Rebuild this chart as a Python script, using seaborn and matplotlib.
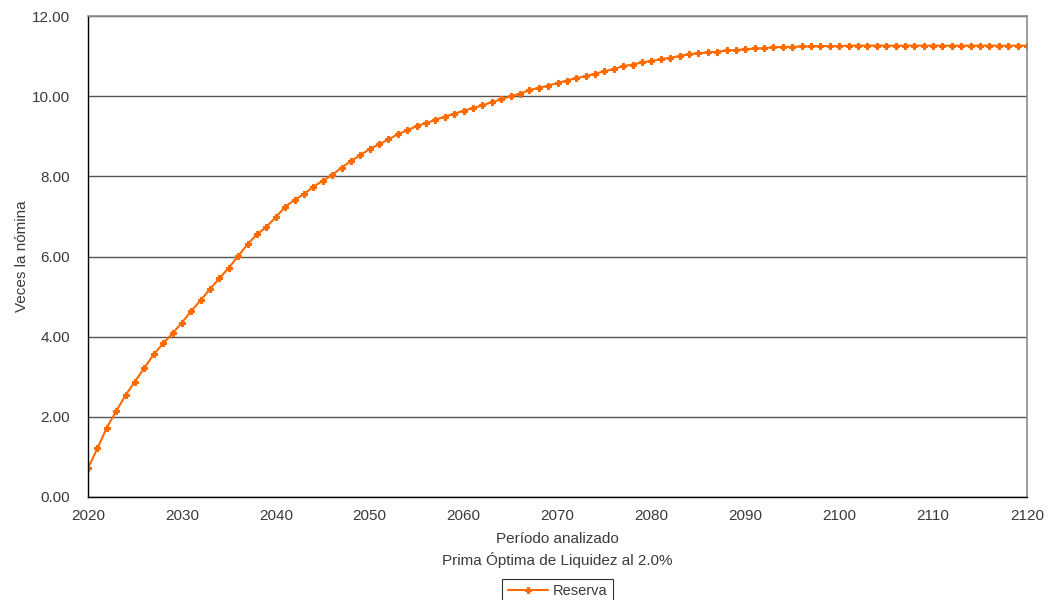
import numpy as np
import pandas as pd
import matplotlib
matplotlib.use("Agg")
import matplotlib.pyplot as plt
from matplotlib.ticker import MultipleLocator, FormatStrFormatter
import seaborn as sns

# --- Data ---
years = list(range(2020, 2121))
reserva = [
    0.72, 1.21, 1.73, 2.14, 2.54, 2.88, 3.22, 3.56, 3.83, 4.08,   # 2020-2029
    4.35, 4.64, 4.91, 5.19, 5.46, 5.72, 6.01, 6.31, 6.55, 6.74,   # 2030-2039
    6.98, 7.24, 7.41, 7.56, 7.74, 7.89, 8.03, 8.22, 8.38, 8.53,   # 2040-2049
    8.68, 8.80, 8.92, 9.05, 9.15, 9.25, 9.33, 9.41, 9.49, 9.56,   # 2050-2059
    9.64, 9.70, 9.77, 9.85, 9.92, 10.00, 10.06, 10.15, 10.21, 10.26,  # 2060-2069
    10.33, 10.39, 10.45, 10.50, 10.56, 10.62, 10.68, 10.75, 10.79, 10.84,  # 2070-2079
    10.88, 10.92, 10.96, 11.00, 11.05, 11.07, 11.09, 11.11, 11.14, 11.15,  # 2080-2089
    11.17, 11.19, 11.20, 11.22, 11.23, 11.23, 11.24, 11.24, 11.25, 11.25,  # 2090-2099
    11.25, 11.26, 11.26, 11.26, 11.26, 11.26, 11.26, 11.26, 11.26, 11.26,  # 2100-2109
    11.26, 11.26, 11.26, 11.26, 11.26, 11.26, 11.26, 11.26, 11.26, 11.26,  # 2110-2119
    11.26,  # 2120
]
serie_nombre = "Reserva"
x_label = "Período analizado\nPrima Óptima de Liquidez al 2.0%"
y_label = "Veces la nómina"

df = pd.DataFrame({"anio": years, "valor": reserva, "serie": serie_nombre})

# --- Style ---
sns.set_style("white")
plt.rcParams["font.family"] = ["Liberation Sans", "DejaVu Sans"]
TEXT = "#3a3a3a"
ORANGE = "#ff6a00"

fig = plt.figure(figsize=(10.58, 6.0), dpi=100)
ax = fig.add_axes([88 / 1058, 1 - 497 / 600, (1027 - 88) / 1058, (497 - 16) / 600])

sns.lineplot(data=df, x="anio", y="valor", hue="serie", palette=[ORANGE],
             marker="P", markersize=5, markeredgewidth=0.8,
             markeredgecolor=ORANGE, markerfacecolor=ORANGE, linewidth=1.5,
             ax=ax, legend=True)

ax.set_xlim(2020, 2120)
ax.set_ylim(0, 12)
ax.xaxis.set_major_locator(MultipleLocator(10))
ax.xaxis.set_minor_locator(MultipleLocator(5))
ax.yaxis.set_major_locator(MultipleLocator(2))
ax.yaxis.set_major_formatter(FormatStrFormatter("%.2f"))

ax.grid(axis="y", color="#555555", linewidth=1.0)
ax.set_axisbelow(True)

for s in ["left", "bottom"]:
    ax.spines[s].set_color("black")
    ax.spines[s].set_linewidth(1.0)
for s in ["top", "right"]:
    ax.spines[s].set_color("#8c8c8c")
    ax.spines[s].set_linewidth(1.2)

ax.tick_params(axis="both", which="both", direction="out", colors="black",
               labelcolor=TEXT, labelsize=11)
ax.tick_params(axis="x", which="major", length=5, pad=4)
ax.tick_params(axis="x", which="minor", length=4)
ax.tick_params(axis="y", which="major", length=5, pad=8)

ax.set_xlabel(x_label, fontsize=11, color=TEXT, labelpad=6, linespacing=1.5)
ax.set_ylabel(y_label, fontsize=11, color=TEXT, labelpad=2)

handles, labels = ax.get_legend_handles_labels()
ax.get_legend().remove()
leg = fig.legend(handles, labels, loc="upper center",
                 bbox_to_anchor=(557.5 / 1058, 1 - 572 / 600),
                 frameon=True, fancybox=False, fontsize=10.5,
                 handlelength=2.8, borderpad=0.35, handletextpad=0.3)
leg.get_frame().set_edgecolor("black")
leg.get_frame().set_linewidth(0.8)
for t in leg.get_texts():
    t.set_color(TEXT)

fig.savefig("out.png", dpi=100)
